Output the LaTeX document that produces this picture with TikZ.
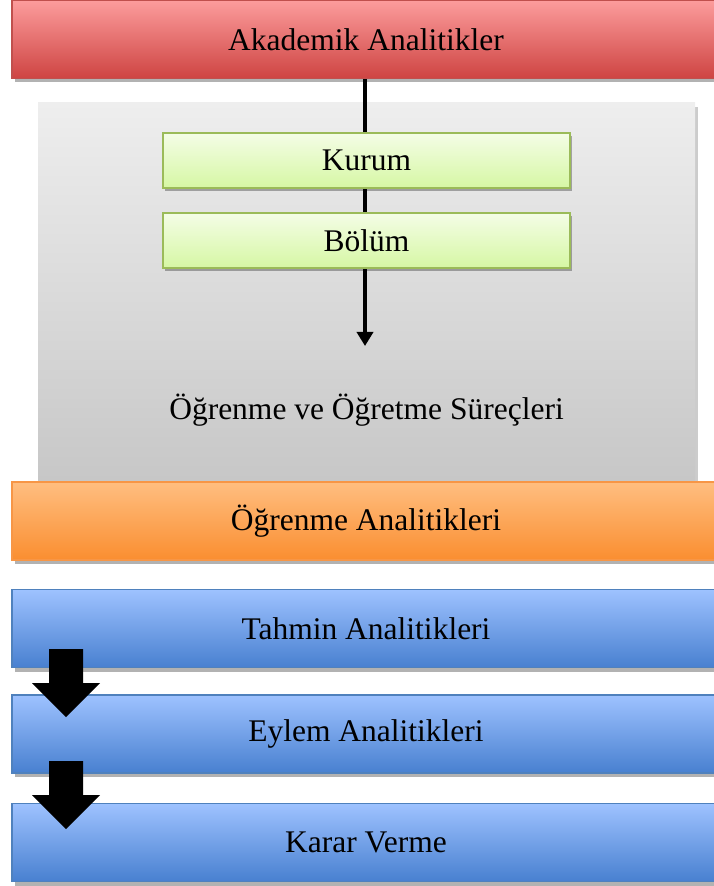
\documentclass[tikz,border=0pt]{standalone}
\usepackage{fontspec}
\setmainfont{Liberation Serif}
\usetikzlibrary{shadows,arrows.meta}

\definecolor{redTop}{RGB}{252,156,156}
\definecolor{redBot}{RGB}{206,68,66}
\definecolor{redLine}{RGB}{192,80,77}
\definecolor{orTop}{RGB}{255,190,128}
\definecolor{orBot}{RGB}{250,142,48}
\definecolor{orLine}{RGB}{247,150,70}
\definecolor{blTop}{RGB}{158,194,255}
\definecolor{blBot}{RGB}{72,128,208}
\definecolor{blLine}{RGB}{79,129,189}
\definecolor{grTop}{RGB}{244,253,230}
\definecolor{grBot}{RGB}{214,247,164}
\definecolor{grLine}{RGB}{155,187,89}
\definecolor{gyTop}{RGB}{238,238,238}
\definecolor{gyBot}{RGB}{198,198,198}

\tikzset{
  txt/.style={font=\fontsize{15.75}{19}\selectfont, text=black},
  band/.style={txt, rectangle, inner sep=0pt, line width=0.6pt,
    minimum width=354pt, minimum height=39pt,
    drop shadow={shadow xshift=1.5pt, shadow yshift=-2pt, opacity=0.3, fill=black}},
  redband/.style={band, draw=redLine, top color=redTop, bottom color=redBot},
  orband/.style={band, draw=orLine, top color=orTop, bottom color=orBot},
  blband/.style={band, draw=blLine, top color=blTop, bottom color=blBot},
  greenbox/.style={txt, rectangle, inner sep=0pt, line width=0.8pt,
    minimum width=203.5pt, minimum height=27.5pt,
    draw=grLine, top color=grTop, bottom color=grBot,
    drop shadow={shadow xshift=1pt, shadow yshift=-1.5pt, opacity=0.3, fill=black}},
  graypanel/.style={rectangle, inner sep=0pt,
    minimum width=328.5pt, minimum height=193.5pt,
    top color=gyTop, bottom color=gyBot,
    drop shadow={shadow xshift=1.5pt, shadow yshift=-2pt, opacity=0.2, fill=black}},
  flowline/.style={line width=2pt, -{Triangle[width=8pt,length=7pt]}},
  blockarrow/.style={fill=black}
}

\begin{document}
\begin{tikzpicture}[x=0.5pt, y=-0.5pt]
  \useasboundingbox (0,0) rectangle (713,886);

  % grey background panel for the teaching processes
  \node[graypanel] (panel) at (366.5,296.5) {};
  \node[txt] (surec) at (366.5,410) {Öğrenme ve Öğretme Süreçleri};

  % top band
  \node[redband] (akad) at (366,39.5) {Akademik Analitikler};

  % vertical flow line through the institution levels
  \coordinate (tip) at (365,346);
  \draw[flowline] (akad.south -| tip) -- (tip);

  \node[greenbox] (kurum) at (366.5,160.5) {Kurum};
  \node[greenbox] (bolum) at (366.5,240.5) {Bölüm};

  % lower bands
  \node[orband] (ogren) at (366,521) {Öğrenme Analitikleri};
  \node[blband] (tahmin) at (366,628.5) {Tahmin Analitikleri};
  \node[blband] (eylem) at (366,734) {Eylem Analitikleri};
  \node[blband] (karar) at (366,842.5) {Karar Verme};

  % block arrows between the blue bands
  \fill[blockarrow] (49,649) -- (83,649) -- (83,683) -- (100,683) -- (66,717)
    -- (32,683) -- (49,683) -- cycle;
  \fill[blockarrow] (49,761) -- (83,761) -- (83,795) -- (100,795) -- (66,829)
    -- (32,795) -- (49,795) -- cycle;
\end{tikzpicture}
\end{document}
